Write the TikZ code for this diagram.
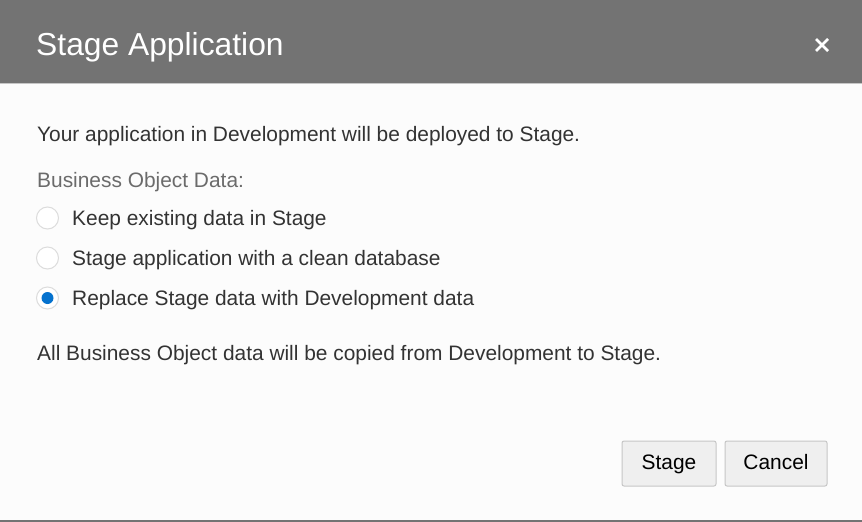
\documentclass[tikz,border=0pt]{standalone}
\usepackage{fontspec}
\setmainfont{Liberation Sans}
\definecolor{hdr}{HTML}{737373}
\definecolor{bg}{HTML}{FCFCFC}
\definecolor{txt}{HTML}{333333}
\definecolor{lbl}{HTML}{6B6B6B}
\definecolor{ring}{HTML}{DCDCDC}
\definecolor{sel}{HTML}{0572CE}
\definecolor{btnfill}{HTML}{EFEFEF}
\definecolor{btnline}{HTML}{C6C6C6}
\begin{document}
\begin{tikzpicture}[x=1pt,y=-1pt,
  body/.style={anchor=base west,inner sep=0pt,text=txt,font=\fontsize{20.9}{24}\selectfont},
  label/.style={body,text=lbl},
  radio/.style={circle,draw=ring,fill=white,line width=1pt,minimum size=22pt,inner sep=0pt},
  btn/.style={draw=btnline,fill=btnfill,rounded corners=2pt,line width=1pt,inner sep=0pt,text height=15pt,text depth=3pt,text=black,font=\fontsize{20.9}{24}\selectfont},
]
\useasboundingbox (0,0) rectangle (862,522);
\fill[bg] (0,0) rectangle (862,522);
\fill[hdr] (0,0) rectangle (862,83);
\draw[btnline,line width=1pt] (0,83.5) -- (862,83.5);
\fill[hdr] (0,520) rectangle (862,522);
\node[anchor=base west,inner sep=0pt,text=white,font=\fontsize{31.8}{36}\selectfont] (title) at (36,55) {Stage Application};
\coordinate (xc) at (822,45);
\draw[white,line width=2.6pt] ([shift={(-6,-6)}]xc) -- ([shift={(6,6)}]xc) ([shift={(-6,6)}]xc) -- ([shift={(6,-6)}]xc);
\node[body] (intro) at (37,141) {Your application in Development will be deployed to Stage.};
\node[label] (bod) at (37,187) {Business Object Data:};
\node[radio] (r1) at (47.5,218) {};
\node[radio] (r2) at (47.5,258) {};
\node[radio] (r3) at (47.5,298) {};
\fill[sel] (r3.center) circle (6);
\node[body] (o1) at (72,225) {Keep existing data in Stage};
\node[body] (o2) at (72,265) {Stage application with a clean database};
\node[body] (o3) at (72,305) {Replace Stage data with Development data};
\node[body] (note) at (37,360) {All Business Object data will be copied from Development to Stage.};
\node[btn,minimum width=94pt,minimum height=45pt] (stage) at (669,463.5) {Stage};
\node[btn,minimum width=102pt,minimum height=45pt] (cancel) at (776,463.5) {Cancel};
\end{tikzpicture}
\end{document}
